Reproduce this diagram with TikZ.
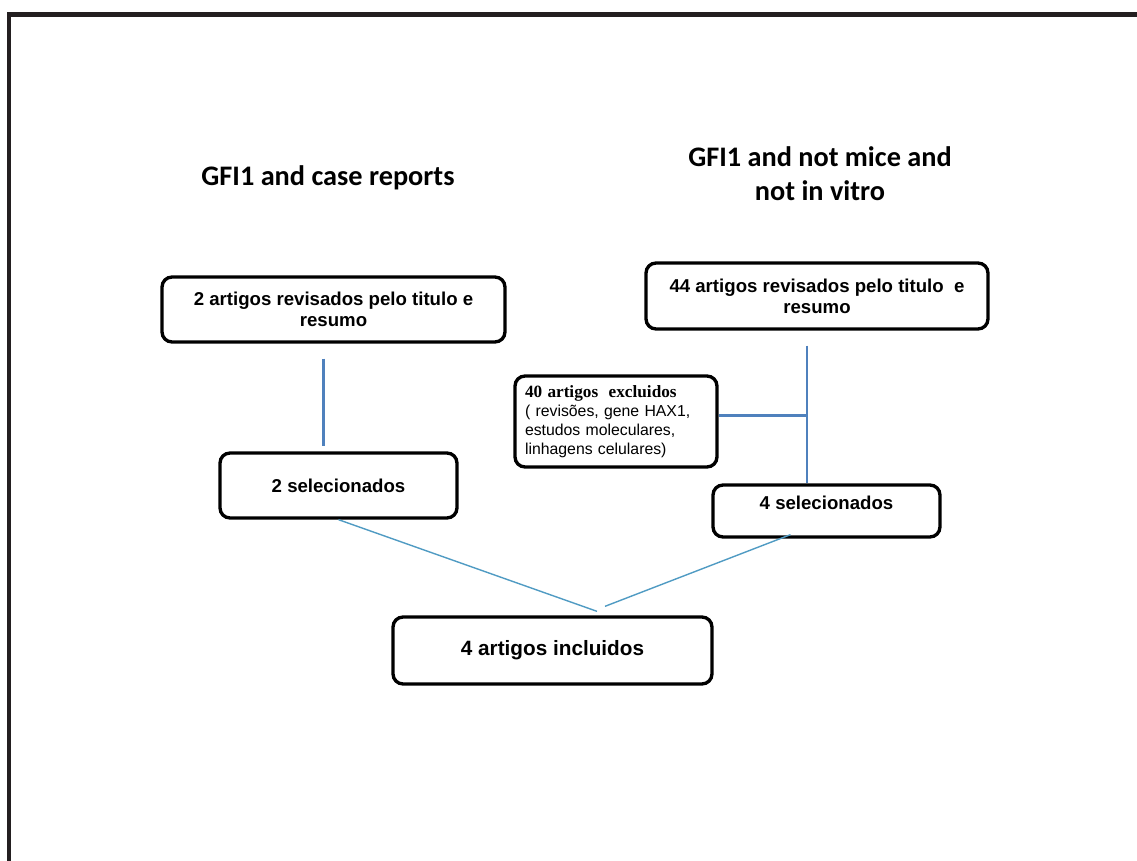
\documentclass[tikz,border=0pt]{standalone}
\usepackage{fontspec}
\setmainfont{Liberation Sans}
\newfontfamily\calibrif{Carlito}
\newfontfamily\timesf{Liberation Serif}
\usetikzlibrary{calc}
\definecolor{framegray}{HTML}{231F20}
\definecolor{linkblue}{HTML}{4F81BD}
\definecolor{linkteal}{RGB}{80,155,195}
\begin{document}
\begin{tikzpicture}[x=0.02cm,y=-0.02cm,
  frameline/.style={draw=framegray,line width=2.8pt},
  title/.style={font=\calibrif\bfseries\fontsize{16.1}{19.3}\selectfont,align=center},
  box/.style={draw=black,line width=1.9pt,rounded corners=0.2cm,fill=white,
    align=center,inner sep=0pt,font=\bfseries\fontsize{10.6}{12}\selectfont},
  vline/.style={draw=linkblue,line width=1.7pt},
  dline/.style={draw=linkteal,line width=0.8pt}]
\useasboundingbox (0,0) rectangle (1137,861);

% outer frame (top and left edges)
\draw[frameline] (9,861) -- (9,14.5) -- (1137,14.5);

% column headings
\node[title] (t1) at (328,178) {GFI1 and case reports};
\node[title] (t2) at (820,174) {GFI1 and not mice and\\not in vitro};

% left column
\node[box,minimum width=6.86cm,minimum height=1.30cm] (b1) at (333.5,309.5)
  {2 artigos revisados pelo titulo e\\resumo};
\node[box,minimum width=4.74cm,minimum height=1.30cm] (b2) at (338.5,485.5)
  {2 selecionados};

% right column
\node[box,minimum width=6.84cm,minimum height=1.32cm] (b3) at (817,296)
  {44 artigos revisados pelo titulo \ e\\resumo};
\node[box,minimum width=4.04cm,minimum height=1.82cm,text width=3.64cm,align=left,
  font=\fontsize{9}{10.9}\selectfont] (b4) at (616,421.5)
  {{\timesf\bfseries\fontsize{9.8}{10.9}\selectfont 40 artigos \ excluidos}\\
   ( revisões, gene HAX1,\\estudos moleculares,\\linhagens celulares)};
\node[box,minimum width=4.54cm,minimum height=1.04cm,text height=0.3cm,text depth=0.34cm]
  (b5) at (826.5,511) {4 selecionados};

% result
\node[box,minimum width=6.38cm,minimum height=1.34cm,font=\bfseries\fontsize{11.8}{14}\selectfont]
  (b6) at (552.5,650.5) {4 artigos incluidos};

% connectors
\coordinate (ltop) at ($(b1.south)+(-10,15)$);
\draw[vline] (ltop) -- ($(ltop |- b2.north)+(0,-5)$);
\coordinate (rtop) at ($(b3.south)+(-10,15)$);
\draw[vline] (rtop) -- (rtop |- b5.north);
\draw[vline] ($(b4.east)+(0,-6)$) -- ($(b4.east -| rtop)+(0,-6)$);
\draw[dline] (b2.south) -- ($(b6.north)+(44.5,-4)$);
\draw[dline] ($(b5.south)+(-36,-4)$) -- ($(b6.north)+(52.5,-9)$);
\end{tikzpicture}
\end{document}
